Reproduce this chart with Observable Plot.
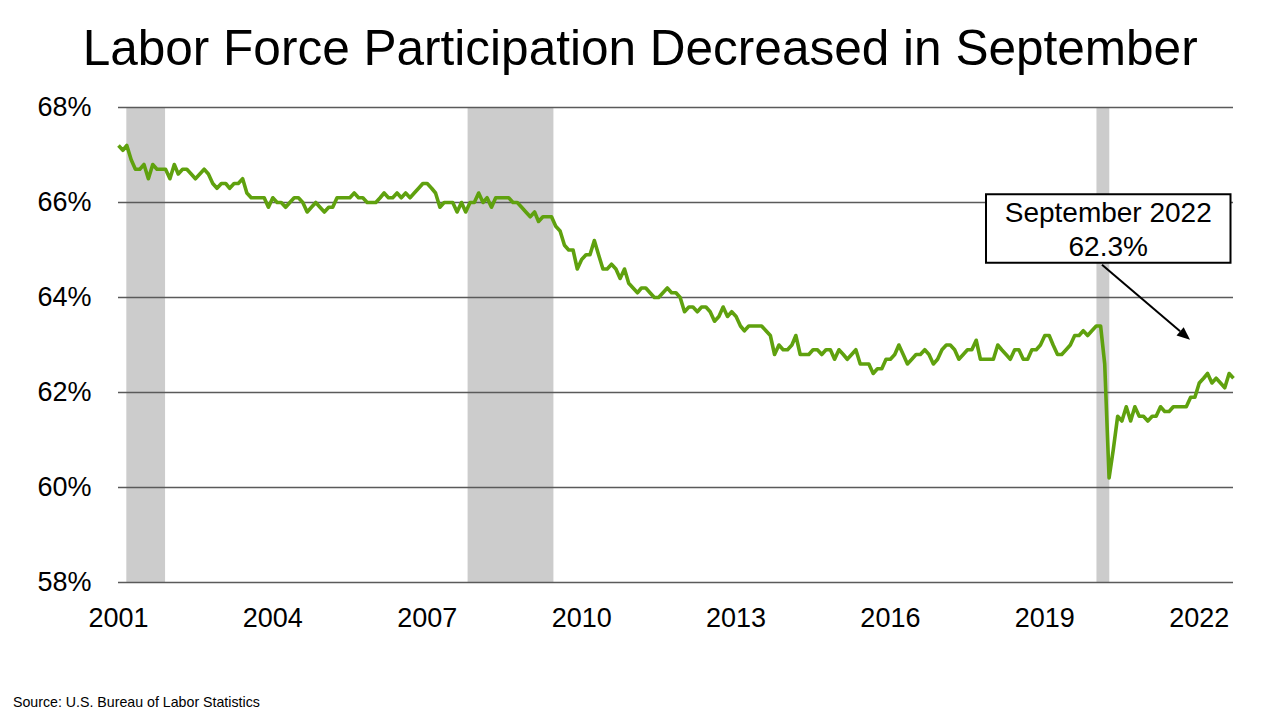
<!DOCTYPE html>
<html>
<head>
<meta charset="utf-8">
<script src="https://cdn.jsdelivr.net/npm/d3@7"></script>
<script src="https://cdn.jsdelivr.net/npm/@observablehq/plot@0.6"></script>
<style>
  html, body { margin: 0; padding: 0; background: #fff; }
  body { width: 1280px; height: 720px; overflow: hidden; position: relative;
         font-family: "Liberation Sans", Arial, sans-serif; color: #000; }
  #title { position: absolute; top: 22.5px; left: 0; width: 1280px; text-align: center;
           font-size: 49.5px; line-height: 1; white-space: nowrap; }
  #title span { display: inline-block; transform-origin: center; }
  #chart { position: absolute; top: 80px; left: 0; }
  #source { position: absolute; left: 13px; top: 695px; font-size: 14.2px; line-height: 1; white-space: nowrap; }
</style>
</head>
<body>
<div id="title"><span>Labor Force Participation Decreased in September</span></div>
<div id="chart"></div>
<div id="source">Source: U.S. Bureau of Labor Statistics</div>
<script>
// ---- Data (monthly labor force participation rate, %, Jan 2001 – Sep 2022) ----
const startYear = 2001;
const lfpr2001_2005 = [
  67.2, 67.1, 67.2, 66.9, 66.7, 66.7, 66.8, 66.5, 66.8, 66.7, 66.7, 66.7,
  66.5, 66.8, 66.6, 66.7, 66.7, 66.6, 66.5, 66.6, 66.7, 66.6, 66.4, 66.3,
  66.4, 66.4, 66.3, 66.4, 66.4, 66.5, 66.2, 66.1, 66.1, 66.1, 66.1, 65.9,
  66.1, 66.0, 66.0, 65.9, 66.0, 66.1, 66.1, 66.0, 65.8, 65.9, 66.0, 65.9,
  65.8, 65.9, 65.9, 66.1, 66.1, 66.1, 66.1, 66.2, 66.1, 66.1, 66.0, 66.0
];
const lfpr2006_2010 = [
  66.0, 66.1, 66.2, 66.1, 66.1, 66.2, 66.1, 66.2, 66.1, 66.2, 66.3, 66.4,
  66.4, 66.3, 66.2, 65.9, 66.0, 66.0, 66.0, 65.8, 66.0, 65.8, 66.0, 66.0,
  66.2, 66.0, 66.1, 65.9, 66.1, 66.1, 66.1, 66.1, 66.0, 66.0, 65.9, 65.8,
  65.7, 65.8, 65.6, 65.7, 65.7, 65.7, 65.5, 65.4, 65.1, 65.0, 65.0, 64.6,
  64.8, 64.9, 64.9, 65.2, 64.9, 64.6, 64.6, 64.7, 64.6, 64.4, 64.6, 64.3
];
const lfpr2011_2015 = [
  64.2, 64.1, 64.2, 64.2, 64.1, 64.0, 64.0, 64.1, 64.2, 64.1, 64.1, 64.0,
  63.7, 63.8, 63.8, 63.7, 63.8, 63.8, 63.7, 63.5, 63.6, 63.8, 63.6, 63.7,
  63.6, 63.4, 63.3, 63.4, 63.4, 63.4, 63.4, 63.3, 63.2, 62.8, 63.0, 62.9,
  62.9, 63.0, 63.2, 62.8, 62.8, 62.8, 62.9, 62.9, 62.8, 62.9, 62.9, 62.7,
  62.9, 62.8, 62.7, 62.8, 62.9, 62.6, 62.6, 62.6, 62.4, 62.5, 62.5, 62.7
];
const lfpr2016_2022 = [
  62.7, 62.8, 63.0, 62.8, 62.6, 62.7, 62.8, 62.8, 62.9, 62.8, 62.6, 62.7,
  62.9, 63.0, 63.0, 62.9, 62.7, 62.8, 62.9, 62.9, 63.1, 62.7, 62.7, 62.7,
  62.7, 63.0, 62.9, 62.8, 62.7, 62.9, 62.9, 62.7, 62.7, 62.9, 62.9, 63.0,
  63.2, 63.2, 63.0, 62.8, 62.8, 62.9, 63.0, 63.2, 63.2, 63.3, 63.2, 63.3,
  63.4, 63.4, 62.6, 60.2, 60.8, 61.5, 61.4, 61.7, 61.4, 61.7, 61.5, 61.5,
  61.4, 61.5, 61.5, 61.7, 61.6, 61.6, 61.7, 61.7, 61.7, 61.7, 61.9, 61.9,
  62.2, 62.3, 62.4, 62.2, 62.3, 62.2, 62.1, 62.4, 62.3
];
const recessionStarts = ["2001-03-01", "2007-10-18", "2020-01-06"];
const recessionEnds   = ["2001-12-01", "2009-06-18", "2020-04-06"];
const yTicks = [58, 60, 62, 64, 66, 68];
const xTickYears = [2001, 2004, 2007, 2010, 2013, 2016, 2019, 2022];

// ---- Build tables ----
const values = [...lfpr2001_2005, ...lfpr2006_2010, ...lfpr2011_2015, ...lfpr2016_2022];
const series = values.map((v, i) => ({ date: new Date(Date.UTC(startYear, i, 1)), value: v }));
const recessions = recessionStarts.map((s, i) => ({ start: new Date(s + "T00:00:00Z"), end: new Date(recessionEnds[i] + "T00:00:00Z") }));
const xTicks = xTickYears.map(y => new Date(Date.UTC(y, 0, 1)));
const last = series[series.length - 1];

const chart = Plot.plot({
  width: 1280,
  height: 580,
  marginTop: 27,
  marginBottom: 78,
  marginLeft: 118,
  marginRight: 47,
  style: { fontFamily: "'Liberation Sans', Arial, sans-serif", fontSize: "27px", color: "#000", background: "transparent", overflow: "visible" },
  x: { type: "utc", domain: [series[0].date, last.date] },
  y: { domain: [58, 68] },
  marks: [
    Plot.rect(recessions, { x1: "start", x2: "end", y1: 58, y2: 68, fill: "#cccccc" }),
    Plot.ruleY(yTicks, { stroke: "#5a5a5a", strokeWidth: 1.6 }),
    Plot.line(series, { x: "date", y: "value", stroke: "#5fa10e", strokeWidth: 3.6, strokeLinejoin: "round", strokeLinecap: "butt" }),
    Plot.axisX({ ticks: xTicks, tickFormat: d3.utcFormat("%Y"), tickSize: 0, tickPadding: 25, label: null, fontSize: 27 }),
    Plot.axisY({ ticks: yTicks, tickFormat: d => d + "%", tickSize: 0, tickPadding: 27, label: null, fontSize: 27 })
  ]
});
document.getElementById("chart").appendChild(chart);

// ---- Annotation anchored to the last data point ----
const sx = chart.scale("x"), sy = chart.scale("y");
const px = sx.apply(last.date), py = sy.apply(last.value);
const svg = d3.select(chart);
const g = svg.append("g");
const boxL = px - 247, boxR = px - 2.5, boxT = py - 183.5, boxB = py - 115;
g.append("rect").attr("x", boxL).attr("y", boxT).attr("width", boxR - boxL).attr("height", boxB - boxT)
  .attr("fill", "#fff").attr("stroke", "#000").attr("stroke-width", 2);
const cx = (boxL + boxR) / 2;
const monthName = d3.utcFormat("%B %Y")(last.date);
g.append("text").attr("x", cx).attr("y", py - 156).attr("text-anchor", "middle")
  .attr("font-size", 28).attr("fill", "#000").text(monthName);
g.append("text").attr("x", cx).attr("y", py - 121.5).attr("text-anchor", "middle")
  .attr("font-size", 28).attr("fill", "#000").text(last.value.toFixed(1) + "%");
// arrow
const ax1 = px - 131, ay1 = py - 113, ax2 = px - 43, ay2 = py - 38;
const ang = Math.atan2(ay2 - ay1, ax2 - ax1);
const headLen = 13, headW = 5.5;
const bx = ax2 - headLen * Math.cos(ang), by = ay2 - headLen * Math.sin(ang);
g.append("line").attr("x1", ax1).attr("y1", ay1).attr("x2", bx).attr("y2", by)
  .attr("stroke", "#000").attr("stroke-width", 2);
g.append("polygon").attr("points", [
  [ax2, ay2],
  [bx + headW * Math.sin(ang), by - headW * Math.cos(ang)],
  [bx - headW * Math.sin(ang), by + headW * Math.cos(ang)]
].map(p => p.join(",")).join(" ")).attr("fill", "#000");

// ---- Fit title width to the reference span ----
const span = document.querySelector("#title span");
const w = span.getBoundingClientRect().width;
const s = 1115 / w;
span.style.transform = `scaleX(${s})`;
</script>
</body>
</html>
